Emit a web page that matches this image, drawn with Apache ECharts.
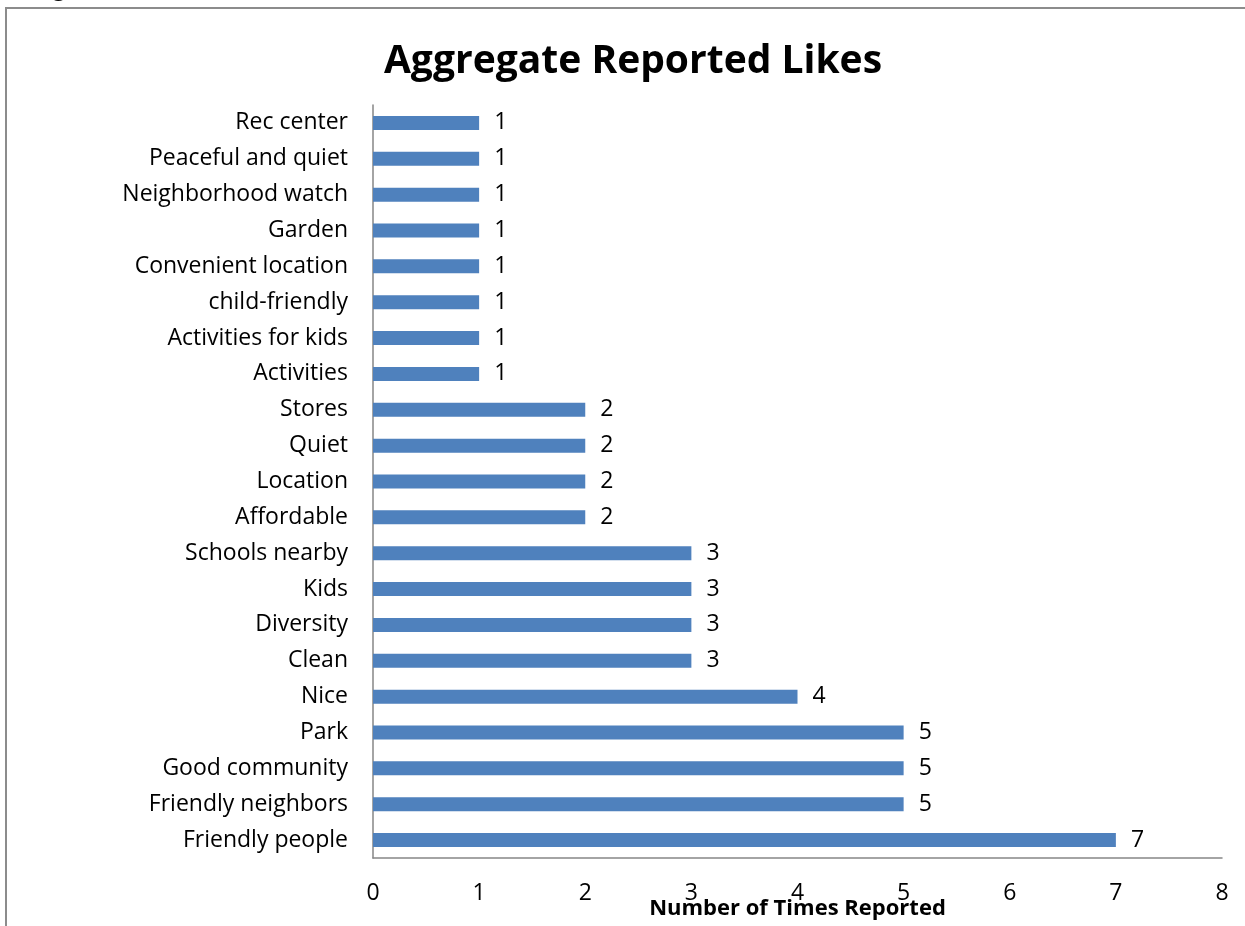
<!DOCTYPE html>
<html>
<head>
<meta charset="utf-8">
<title>Aggregate Reported Likes</title>
<script src="https://cdn.jsdelivr.net/npm/echarts@6/dist/echarts.min.js"></script>
<style>
  html, body { margin: 0; padding: 0; background: #ffffff; }
  #chart { width: 1245px; height: 926px; }
</style>
</head>
<body>
<div id="chart"></div>
<script>
// Responses, listed bottom to top
const categories = [
  'Friendly people', 'Friendly neighbors', 'Good community', 'Park', 'Nice',
  'Clean', 'Diversity', 'Kids', 'Schools nearby', 'Affordable', 'Location',
  'Quiet', 'Stores', 'Activities', 'Activities for kids', 'child-friendly',
  'Convenient location', 'Garden', 'Neighborhood watch', 'Peaceful and quiet',
  'Rec center'
];
const timesReported = [7, 5, 5, 5, 4, 3, 3, 3, 3, 2, 2, 2, 2, 1, 1, 1, 1, 1, 1, 1, 1];
const xTicks = [0, 1, 2, 3, 4, 5, 6, 7, 8];

const FONT = '"Open Sans", Lato, sans-serif';
const AXIS_GREY = '#868686';
const FRAME_GREY = '#8c8c8c';

const chart = echarts.init(document.getElementById('chart'), null, { renderer: 'canvas' });

chart.setOption({
  backgroundColor: '#ffffff',
  animation: false,
  title: {
    text: 'Aggregate Reported Likes',
    left: 628,
    top: 37,
    textAlign: 'center',
    textStyle: { fontFamily: FONT, fontWeight: 'bold', fontSize: 39, lineHeight: 40, color: '#000' }
  },
  graphic: [
    // frame edges around the figure
    { type: 'line', silent: true, shape: { x1: 5, y1: 8, x2: 1245, y2: 8 }, style: { stroke: FRAME_GREY, lineWidth: 2 } },
    { type: 'line', silent: true, shape: { x1: 6, y1: 7, x2: 6, y2: 926 }, style: { stroke: FRAME_GREY, lineWidth: 2 } },
    // caption line above the frame, mostly out of view
    { type: 'text', silent: true, x: 36, y: -10.5,
      style: { text: 'Figure', fontFamily: FONT, fontSize: 22, fill: '#000', textAlign: 'left', textVerticalAlign: 'middle' } }
  ],
  grid: { left: 373, right: 23, top: 105, bottom: 68, containLabel: false, outerBoundsMode: 'none' },
  xAxis: {
    type: 'value',
    min: xTicks[0],
    max: xTicks[xTicks.length - 1],
    interval: 1,
    name: 'Number of Times Reported',
    nameLocation: 'middle',
    nameGap: 40,
    nameMoveOverlap: false,
    nameTextStyle: { fontFamily: FONT, fontWeight: 'bold', fontSize: 22, lineHeight: 22, color: '#000' },
    axisLine: { show: true, lineStyle: { color: AXIS_GREY, width: 1.5 } },
    axisTick: { show: false },
    splitLine: { show: false },
    axisLabel: { margin: 24, fontFamily: FONT, fontSize: 23, lineHeight: 23, color: '#000' }
  },
  yAxis: {
    type: 'category',
    data: categories,
    axisLine: { show: true, lineStyle: { color: AXIS_GREY, width: 1.5 } },
    axisTick: { show: false },
    splitLine: { show: false },
    axisLabel: { margin: 25, fontFamily: FONT, fontSize: 23, color: '#000' }
  },
  series: [{
    type: 'bar',
    data: timesReported,
    barWidth: 14,
    itemStyle: { color: '#4f81bd' },
    label: {
      show: true,
      position: 'right',
      distance: 15,
      fontFamily: FONT,
      fontSize: 23,
      color: '#000'
    }
  }]
});
</script>
</body>
</html>
